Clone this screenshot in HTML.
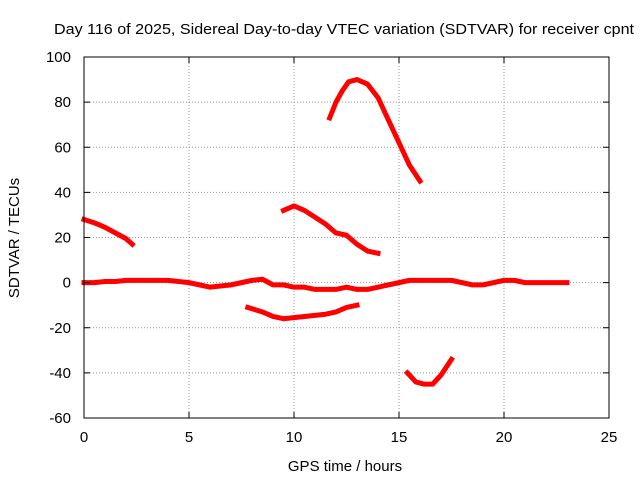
<!DOCTYPE html>
<html><head><meta charset="utf-8"><style>
body{margin:0;background:#fff}
svg text{font-family:"Liberation Sans",sans-serif;font-size:14px;fill:#000}
</style></head><body>
<svg id="c" width="640" height="480">
<rect x="0" y="0" width="640" height="480" fill="#fff"/>
<text x="54" y="34" textLength="580" lengthAdjust="spacingAndGlyphs" style="font-size:15px">Day 116 of 2025, Sidereal Day-to-day VTEC variation (SDTVAR) for receiver cpnt</text>
<text x="345" y="471" text-anchor="middle" style="font-size:15px">GPS time / hours</text>
<text transform="translate(19,238) rotate(-90)" text-anchor="middle" style="font-size:15px">SDTVAR / TECUs</text>
<g id="grid"></g><g id="series"></g>
<rect x="84" y="57" width="525" height="361" fill="none" stroke="#000"/>
</svg>
<script>
const xTicks=[0,5,10,15,20,25];
const yTicks=[-60,-40,-20,0,20,40,60,80,100];
const s1x=[0,0.5,1,1.5,2,2.3], s1y=[28,26.5,24.5,22,19.5,17];
const s2x=[0,0.5,1,1.5,2,2.5,3,3.5,4,4.5,5,5.5,6,6.5,7,7.5,8,8.5,9,9.5,10,10.5,11,11.5,12,12.5,13,13.5,14,14.5,15,15.5,16,16.5,17,17.5,18,18.5,19,19.5,20,20.5,21,21.5,22,22.5,23];
const s2y=[0,0,0.5,0.5,1,1,1,1,1,0.5,0,-1,-2,-1.5,-1,0,1,1.5,-1,-1,-2,-2,-3,-3,-3,-2,-3,-3,-2,-1,0,1,1,1,1,1,0,-1,-1,0,1,1,0,0,0,0,0];
const s3x=[7.8,8.5,9,9.5,10,10.5,11,11.5,12,12.5,13];
const s3y=[-11,-13,-15,-16,-15.5,-15,-14.5,-14,-13,-11,-10];
const s4x=[9.5,10,10.5,11,11.5,12,12.5,13,13.5,14];
const s4y=[32,34,32,29,26,22,21,17,14,13];
const s5x=[11.7,12,12.3,12.6,13,13.5,14,14.5,15,15.5,16];
const s5y=[73,80,85,89,90,88,82,72,62,52,45];
const s6x=[15.4,15.8,16.2,16.6,17,17.5];
const s6y=[-40,-44,-45,-45,-41,-34];
const X=v=>84+v*21, Y=v=>418-(v+60)*361/160;
const NS="http://www.w3.org/2000/svg", svg=document.getElementById('c');
const grid=document.getElementById('grid'), ser=document.getElementById('series');
function mk(t,a,p){const e=document.createElementNS(NS,t);for(const k in a)e.setAttribute(k,a[k]);p.appendChild(e);return e;}
xTicks.forEach(t=>{
 if(t>0&&t<25){const g=mk('line',{x1:X(t),x2:X(t),y1:57,y2:418,stroke:'#999','stroke-dasharray':'1,2'},grid);
 
 }
 const l=mk('text',{x:X(t),y:442,'text-anchor':'middle',style:'font-size:15px'},svg);l.textContent=t;
 
 
 mk('line',{x1:X(t),x2:X(t),y1:418,y2:412,stroke:'#000'},svg);
 mk('line',{x1:X(t),x2:X(t),y1:57,y2:63,stroke:'#000'},svg);
});
yTicks.forEach(t=>{
 if(t>-60&&t<100){const g=mk('line',{x1:84,x2:609,y1:Y(t),y2:Y(t),stroke:'#999','stroke-dasharray':'1,2'},grid);
 
 }
 const l=mk('text',{x:71,y:Y(t)+5,'text-anchor':'end',style:'font-size:15px'},svg);l.textContent=t;
 
 
 mk('line',{x1:84,x2:90,y1:Y(t),y2:Y(t),stroke:'#000'},svg);
 mk('line',{x1:609,x2:603,y1:Y(t),y2:Y(t),stroke:'#000'},svg);
});
[[s1x,s1y],[s2x,s2y],[s3x,s3y],[s4x,s4y],[s5x,s5y],[s6x,s6y]].forEach((s,i)=>{
 const pts=s[0].map((x,j)=>X(x)+','+Y(s[1][j])).join(' ');
 const p=mk('polyline',{points:pts,fill:'none',stroke:'#f00','stroke-width':5,'stroke-linejoin':'round','stroke-linecap':'square'},ser);
 
 
});
</script>
</body></html>
